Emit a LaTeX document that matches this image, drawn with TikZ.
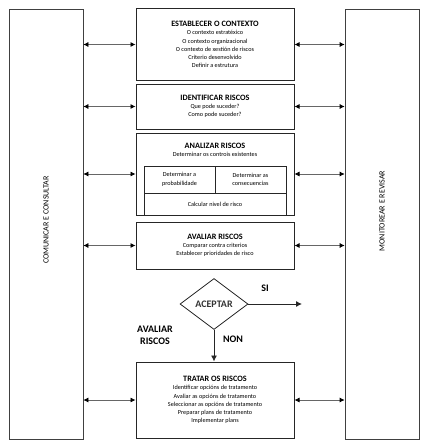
\documentclass[tikz,border=0pt]{standalone}
\usepackage{fontspec}
\setmainfont{Carlito}
\usetikzlibrary{arrows.meta, shapes.geometric, positioning}

\newcommand{\stagetitle}[1]{{\fontsize{8.2}{9}\selectfont\bfseries #1}}

\begin{document}
\begin{tikzpicture}[x=1pt,y=-1pt,
  stage/.style={draw=black!85, line width=1pt, minimum width=158pt, align=center, inner sep=0pt, font=\fontsize{6.2}{8.3}\selectfont},
  inner/.style={draw=black!85, line width=0.7pt, align=center, inner sep=0pt, font=\fontsize{6.2}{8.3}\selectfont},
  side/.style={draw=black!75, line width=0.7pt, minimum width=74pt, minimum height=430pt, inner sep=0pt},
  sidelabel/.style={rotate=90, font=\fontsize{8}{9}\selectfont},
  link/.style={draw=black!60, line width=0.7pt, {Latex[length=5pt,width=5pt,color=black]}-{Latex[length=5pt,width=5pt,color=black]}},
  flow/.style={draw=black!85, line width=0.9pt, -{Latex[length=6pt,width=6pt]}},
  flowlabel/.style={font=\fontsize{10}{11}\selectfont\bfseries, align=center}
]
\useasboundingbox (0,0) rectangle (426,444);

\node[side] (com) at (46,224) {};
\node[sidelabel] (comtext) at (46,220) {COMUNICAR E CONSULTAR};
\node[side] (mon) at (382,224) {};
\node[sidelabel] (montext) at (382,211) {MONITOREAR E REVISAR};

\node[stage, minimum height=71pt] (ctx) at (215,44.5) {\stagetitle{ESTABLECER O CONTEXTO}\\O contexto estratéxico\\O contexto organizacional\\O contexto de xestión de riscos\\Criterio desenvolvido\\Definir a estrutura};
\node[stage, minimum height=45pt] (ident) at (215,106.5) {\stagetitle{IDENTIFICAR RISCOS}\\Que pode suceder?\\Como pode suceder?};
\node[stage, minimum height=82pt] (anal) at (215,174) {};
\node[stage, draw=none, minimum width=0pt] (analtext) at (215,150) {\stagetitle{ANALIZAR RISCOS}\\Determinar os controis existentes};
\node[inner, minimum width=71pt, minimum height=27pt] (prob) at (179.5,179.5) {Determinar a\\probabilidade};
\node[inner, minimum width=71pt, minimum height=27pt] (cons) at (250.5,179.5) {Determinar as\\consecuencias};
\node[inner, minimum width=142pt, minimum height=22pt] (calc) at (215,204) {Calcular nivel de risco};
\node[stage, minimum height=47pt] (aval) at (215,245.5) {\stagetitle{AVALIAR RISCOS}\\Comparar contra criterios\\Establecer prioridades de risco};
\node[stage, minimum height=76pt] (trat) at (215,400) {\stagetitle{TRATAR OS RISCOS}\\Identificar opcións de tratamento\\Avaliar as opcións de tratamento\\Seleccionar as opcións de tratamento\\Preparar plans de tratamento\\Implementar plans};

\node[draw=black!85, line width=0.8pt, diamond, minimum width=68pt, minimum height=51pt, inner sep=0pt, font=\fontsize{10}{11}\selectfont\bfseries, text=black!80] (acept) at (214,304) {ACEPTAR};
\coordinate (siend) at (302,304);
\node[flowlabel] (si) at (265,288) {SI};
\node[flowlabel] (non) at (233,339) {NON};
\node[flowlabel] (avlabel) at (155,335) {AVALIAR\\[1pt]RISCOS};

\draw[flow] (acept.east) -- (siend);
\draw[flow] (acept.south) -- (trat.north -| acept.south);

\foreach \st in {ctx, ident, anal, aval, trat} {
  \draw[link] (com.east |- \st.west) -- (\st.west);
  \draw[link] (\st.east) -- (mon.west |- \st.east);
}
\end{tikzpicture}
\end{document}
